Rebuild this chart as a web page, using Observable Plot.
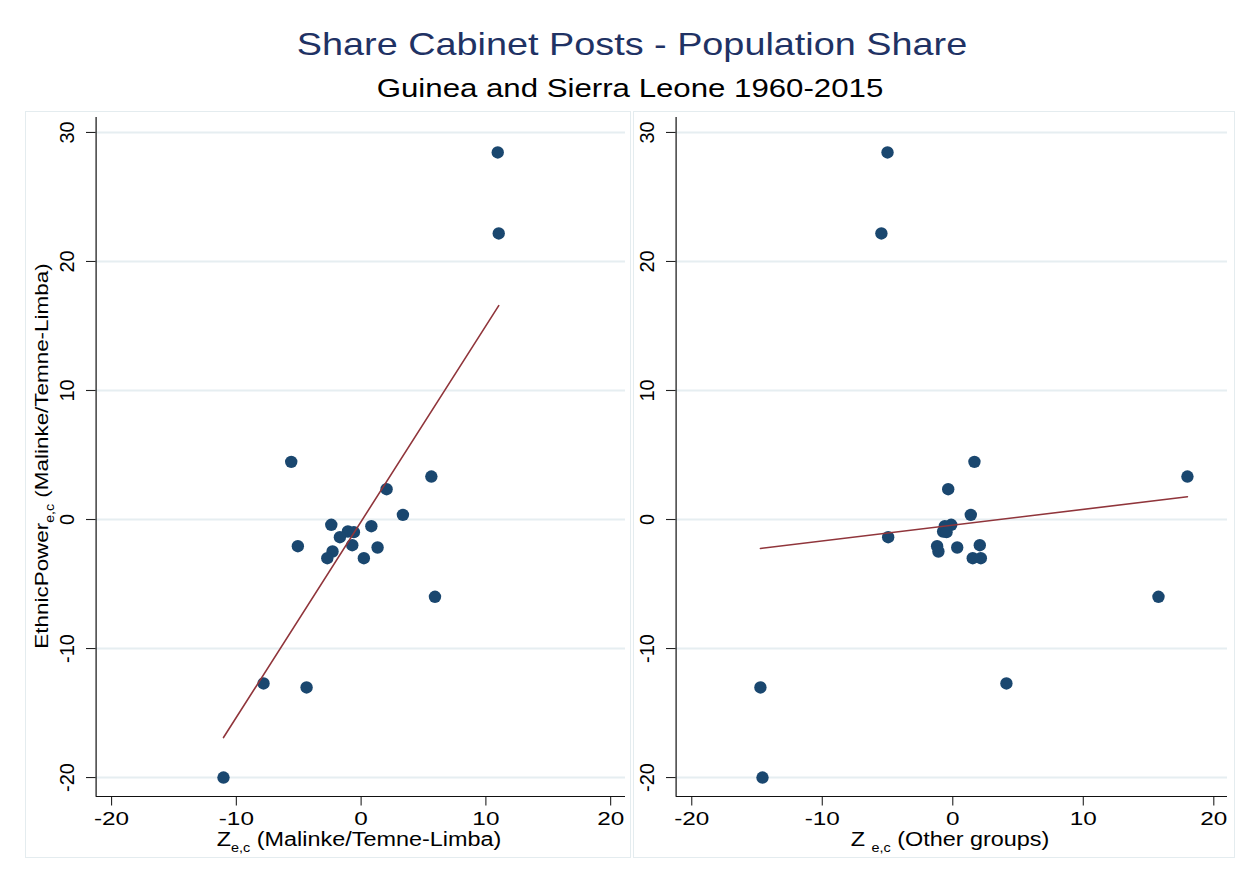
<!DOCTYPE html>
<html><head><meta charset="utf-8">
<script src="https://cdn.jsdelivr.net/npm/d3@7"></script>
<script src="https://cdn.jsdelivr.net/npm/@observablehq/plot@0.6"></script>
<style>
body{margin:0;background:#fff;}
#wrap{position:relative;width:1250px;height:873px;background:#fff;font-family:"Liberation Sans",Arial,Helvetica,sans-serif;overflow:hidden;color:#000}
.abs{position:absolute;white-space:nowrap;line-height:1}
.box{position:absolute;border:1.5px solid #e4ecef;box-sizing:border-box}
.sub{position:relative;top:6px;font-size:12px}
svg{position:absolute;overflow:visible}
</style></head><body>
<div id="wrap">
  <div class="box" style="left:25px;top:111px;width:606px;height:747px"></div>
  <div class="box" style="left:633px;top:111px;width:602px;height:747px"></div>
  <div class="abs" style="left:632px;top:45px;font-size:31.5px;color:#1f3264;transform:translate(-50%,-50%) scaleX(1.2)">Share Cabinet Posts - Population Share</div>
  <div class="abs" style="left:630px;top:88px;font-size:26px;transform:translate(-50%,-50%) scaleX(1.2)">Guinea and Sierra Leone 1960-2015</div>
  <div class="abs" style="left:359px;top:839.5px;font-size:19.5px;transform:translate(-50%,-50%) scaleX(1.2)">Z<span class="sub">e,c</span> (Malinke/Temne-Limba)</div>
  <div class="abs" style="left:950px;top:839.5px;font-size:19.5px;transform:translate(-50%,-50%) scaleX(1.2)">Z <span class="sub">e,c</span> (Other groups)</div>
  <div class="abs" style="left:41px;top:456px;font-size:19px;transform:translate(-50%,-50%) rotate(-90deg) scaleX(1.18)">EthnicPower<span class="sub">e,c</span> (Malinke/Temne-Limba)</div>
</div>
<script>
// Data
const ethnicPower = [28.45, 22.17, 4.47, 3.33, 2.35, 0.36, -0.41, -0.52, -0.93, -0.98, -1.37, -2.07, -1.99, -2.17, -2.48, -3.0, -3.0, -5.99, -12.71, -13.02, -20.0];
const zMalinke = [10.95, 11.03, -5.60, 5.63, 2.04, 3.35, -2.39, 0.82, -1.06, -0.58, -1.70, -5.07, -0.71, 1.32, -2.29, -2.71, 0.22, 5.92, -7.82, -4.37, -11.03];
const zOther = [-5.0, -5.47, 1.66, 17.98, -0.35, 1.38, -0.12, -0.61, -0.74, -0.48, -4.95, -1.20, 2.07, 0.34, -1.10, 1.53, 2.15, 15.76, 4.11, -14.74, -14.58];
const xTicks = [-20, -10, 0, 10, 20];
const yTicks = [-20, -10, 0, 10, 20, 30];

const yDomain = [-21.47, 31.16];
const dotColor = "#1a476f";
const lineColor = "#90353b";
const gridColor = "#e6eef1";
const font = '"Liberation Sans", Arial, Helvetica, sans-serif';

function stretch(svg, selector, s) {
  svg.querySelectorAll(selector).forEach(t => {
    let tr = t.getAttribute("transform");
    if (!tr) {
      const x = +t.getAttribute("x") || 0, y = +t.getAttribute("y") || 0;
      t.removeAttribute("x"); t.removeAttribute("y");
      tr = `translate(${x},${y})`;
    }
    t.setAttribute("transform", tr + ` scale(${s},1)`);
  });
}

function panel(xs, xDomain, width, mL, mR) {
  const data = xs.map((x, i) => ({x, y: ethnicPower[i]}));
  const svg = Plot.plot({
    width, height: 773,
    marginLeft: mL, marginRight: mR, marginTop: 17, marginBottom: 77,
    x: {domain: xDomain, axis: null},
    y: {domain: yDomain, axis: null},
    style: {background: "transparent", fontFamily: font, fontSize: "19px", color: "#000"},
    marks: [
      Plot.gridY(yTicks, {stroke: gridColor, strokeOpacity: 1, strokeWidth: 2}),
      Plot.axisX(xTicks, {tickSize: 9.6, tickPadding: 5, fontSize: 19, label: null, stroke: "#222", strokeWidth: 1.1, tickFormat: d => String(d)}),
      Plot.axisY(yTicks, {tickSize: 9.6, tickFormat: () => "", label: null, stroke: "#222", strokeWidth: 1.1}),
      Plot.text(yTicks, {y: d => d, text: d => String(d), frameAnchor: "left", rotate: -90, dx: -29,
        fontSize: 20, textAnchor: "middle", lineAnchor: "middle", fill: "#000", ariaLabel: "y-tick-text"}),
      Plot.ruleX([xDomain[0]], {stroke: "#111", strokeWidth: 1.2}),
      Plot.ruleY([yDomain[0]], {stroke: "#111", strokeWidth: 1.2}),
      Plot.dot(data, {x: "x", y: "y", r: 6.2, fill: dotColor, stroke: "none"}),
      Plot.linearRegressionY(data, {x: "x", y: "y", stroke: lineColor, strokeWidth: 1.6, ci: 0})
    ]
  });
  stretch(svg, 'g[aria-label="x-axis tick label"] text', 1.28);
  stretch(svg, 'g[aria-label="y-tick-text"] text', 1.1);
  return svg;
}

const wrap = document.getElementById("wrap");
const left = panel(zMalinke, [-21.24, 21.19], 632, 95.6, 7);
left.style.left = "0px"; left.style.top = "100px";
wrap.appendChild(left);
const right = panel(zOther, [-21.2, 21.05], 618, 43.6, 23);
right.style.left = "632px"; right.style.top = "100px";
wrap.appendChild(right);
</script>
</body></html>
